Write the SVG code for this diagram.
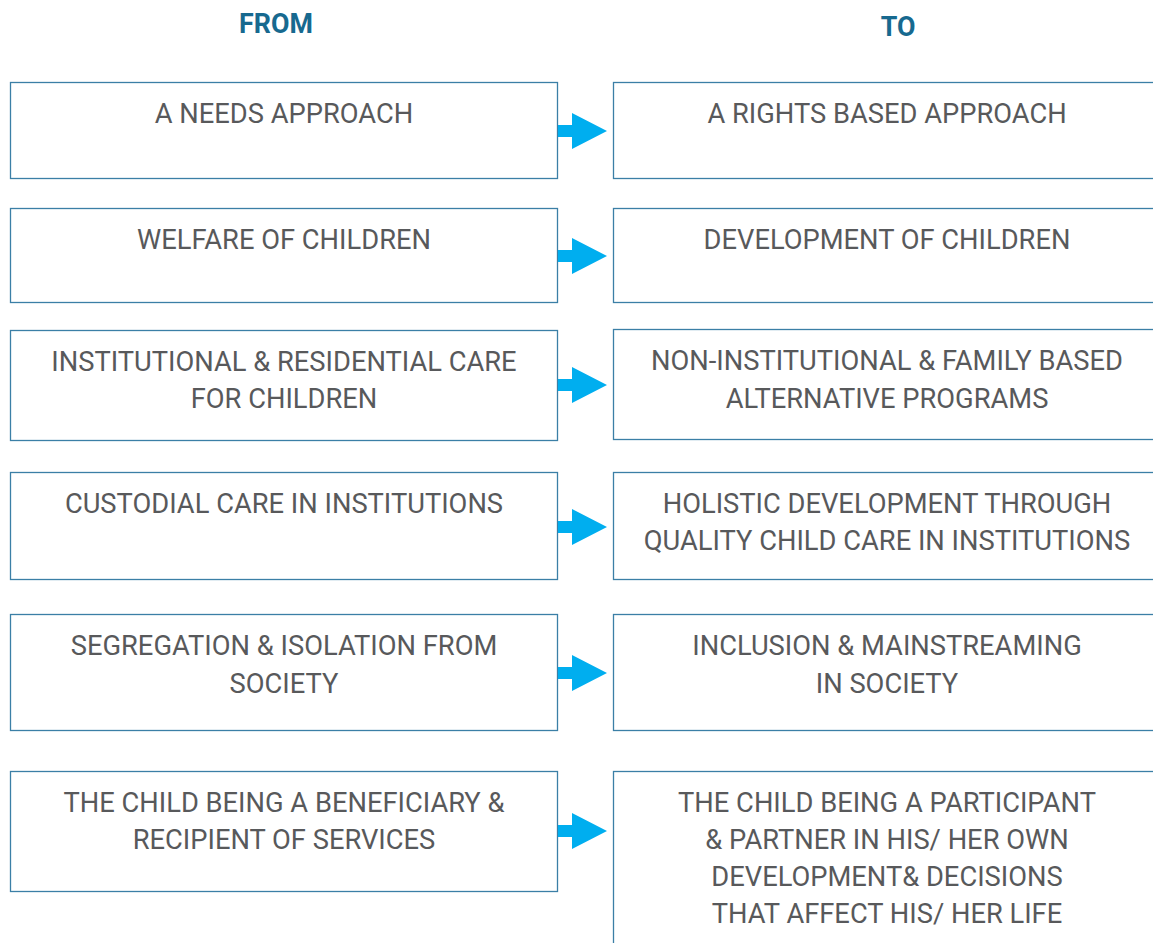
<svg xmlns="http://www.w3.org/2000/svg" width="1153" height="943" viewBox="0 0 1153 943">
<style>
.box{fill:#fff;stroke:#3b7fa6;stroke-width:1.3}
.t{font-family:Roboto,"Liberation Sans",sans-serif;font-size:27.3px;fill:#58595b;text-anchor:middle}
.h{font-family:Roboto,"Liberation Sans",sans-serif;font-size:26.8px;font-weight:bold;fill:#17698f;text-anchor:middle}
.ar{fill:#00aeef}
</style>
<defs>
<path id="arrow" class="ar" d="M0,-6 H14 V-18 L49,0 L14,18 V6 H0 Z"/>
</defs>
<rect width="1153" height="943" fill="#fff"/>
<text class="h" x="276" y="33">FROM</text>
<text class="h" x="898" y="36">TO</text>
<g id="from1"><rect class="box" x="10.5" y="82.5" width="547" height="96"/><text class="t" x="284" y="123">A NEEDS APPROACH</text></g>
<g id="to1"><rect class="box" x="613.5" y="82.5" width="560" height="96"/><text class="t" x="887" y="123">A RIGHTS BASED APPROACH</text></g>
<g id="from2"><rect class="box" x="10.5" y="208.5" width="547" height="94"/><text class="t" x="284" y="249">WELFARE OF CHILDREN</text></g>
<g id="to2"><rect class="box" x="613.5" y="208.5" width="560" height="94"/><text class="t" x="887" y="249">DEVELOPMENT OF CHILDREN</text></g>
<g id="from3"><rect class="box" x="10.5" y="330.5" width="547" height="110"/><text class="t" x="284" y="371">INSTITUTIONAL &amp; RESIDENTIAL CARE</text><text class="t" x="284" y="408">FOR CHILDREN</text></g>
<g id="to3"><rect class="box" x="613.5" y="329.5" width="560" height="110"/><text class="t" x="887" y="370">NON-INSTITUTIONAL &amp; FAMILY BASED</text><text class="t" x="887" y="408">ALTERNATIVE PROGRAMS</text></g>
<g id="from4"><rect class="box" x="10.5" y="472.5" width="547" height="107"/><text class="t" x="284" y="513">CUSTODIAL CARE IN INSTITUTIONS</text></g>
<g id="to4"><rect class="box" x="613.5" y="472.5" width="560" height="107"/><text class="t" x="887" y="513">HOLISTIC DEVELOPMENT THROUGH</text><text class="t" x="887" y="550">QUALITY CHILD CARE IN INSTITUTIONS</text></g>
<g id="from5"><rect class="box" x="10.5" y="614.5" width="547" height="116"/><text class="t" x="284" y="655">SEGREGATION &amp; ISOLATION FROM</text><text class="t" x="284" y="693">SOCIETY</text></g>
<g id="to5"><rect class="box" x="613.5" y="614.5" width="560" height="116"/><text class="t" x="887" y="655">INCLUSION &amp; MAINSTREAMING</text><text class="t" x="887" y="693">IN SOCIETY</text></g>
<g id="from6"><rect class="box" x="10.5" y="771.5" width="547" height="120"/><text class="t" x="284" y="812">THE CHILD BEING A BENEFICIARY &amp;</text><text class="t" x="284" y="849">RECIPIENT OF SERVICES</text></g>
<g id="to6"><rect class="box" x="613.5" y="771.5" width="560" height="200"/><text class="t" x="887" y="812">THE CHILD BEING A PARTICIPANT</text><text class="t" x="887" y="849">&amp; PARTNER IN HIS/ HER OWN</text><text class="t" x="887" y="886">DEVELOPMENT&amp; DECISIONS</text><text class="t" x="887" y="923">THAT AFFECT HIS/ HER LIFE</text></g>
<g id="connectors">
<use href="#arrow" x="558" y="131"/>
<use href="#arrow" x="558" y="256"/>
<use href="#arrow" x="558" y="385"/>
<use href="#arrow" x="558" y="527"/>
<use href="#arrow" x="558" y="673"/>
<use href="#arrow" x="558" y="831"/>
</g>
</svg>
